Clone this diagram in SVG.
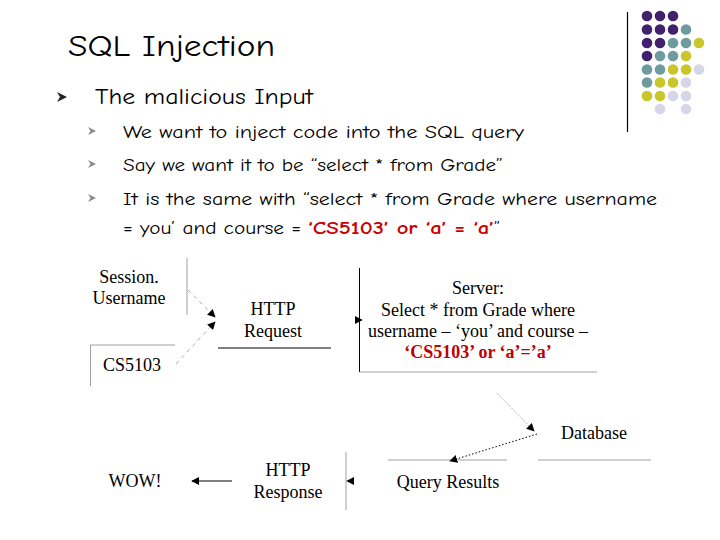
<svg xmlns="http://www.w3.org/2000/svg" width="720" height="540" viewBox="0 0 720 540">
<defs>
<style>
.t{font-family:"Comic Neue","DejaVu Sans","Open Sans",sans-serif;fill:#000}
.s{font-family:"Liberation Serif","Times New Roman",serif;font-size:18px;fill:#000;text-anchor:middle}
.red{fill:#C00000;font-weight:bold}
.gl{stroke:#a0a0a0;stroke-width:1;fill:none}
.bl{stroke:#000;stroke-width:1;fill:none}
.P{fill:#41206E}.T{fill:#6E9C9E}.Y{fill:#C8C62A}.L{fill:#D6D6E8}
</style>
<marker id="ah" viewBox="0 0 10 10" refX="9" refY="5" markerWidth="8" markerHeight="8" orient="auto" markerUnits="userSpaceOnUse">
<path d="M0,0 L10,5 L0,10 z" fill="#000"/>
</marker>
</defs>
<rect width="720" height="540" fill="#fff"/>

<g id="decoration">
<line x1="627.5" y1="12" x2="627.5" y2="132" stroke="#000" stroke-width="1.2"/>
<g>
<circle class="P" cx="647" cy="16" r="5.3"/><circle class="P" cx="660" cy="16" r="5.3"/><circle class="P" cx="673" cy="16" r="5.3"/>
<circle class="P" cx="647" cy="29.5" r="5.3"/><circle class="P" cx="660" cy="29.5" r="5.3"/><circle class="P" cx="673" cy="29.5" r="5.3"/><circle class="T" cx="686" cy="29.5" r="5.3"/>
<circle class="P" cx="647" cy="43" r="5.3"/><circle class="P" cx="660" cy="43" r="5.3"/><circle class="T" cx="673" cy="43" r="5.3"/><circle class="T" cx="686" cy="43" r="5.3"/><circle class="Y" cx="699" cy="43" r="5.3"/>
<circle class="P" cx="647" cy="56" r="5.3"/><circle class="T" cx="660" cy="56" r="5.3"/><circle class="T" cx="673" cy="56" r="5.3"/><circle class="Y" cx="686" cy="56" r="5.3"/>
<circle class="T" cx="647" cy="69.5" r="5.3"/><circle class="T" cx="660" cy="69.5" r="5.3"/><circle class="Y" cx="673" cy="69.5" r="5.3"/><circle class="Y" cx="686" cy="69.5" r="5.3"/><circle class="L" cx="699" cy="69.5" r="5.3"/>
<circle class="T" cx="647" cy="82.5" r="5.3"/><circle class="Y" cx="660" cy="82.5" r="5.3"/><circle class="Y" cx="673" cy="82.5" r="5.3"/><circle class="L" cx="686" cy="82.5" r="5.3"/>
<circle class="Y" cx="647" cy="96" r="5.3"/><circle class="Y" cx="660" cy="96" r="5.3"/><circle class="L" cx="673" cy="96" r="5.3"/><circle class="L" cx="686" cy="96" r="5.3"/>
<circle class="L" cx="660" cy="109" r="5.3"/><circle class="L" cx="686" cy="109" r="5.3"/>
</g>
</g>

<g id="title">
<text class="t" x="68" y="56" font-size="31" textLength="207" lengthAdjust="spacingAndGlyphs">SQL Injection</text>
</g>

<g id="bullets">
<polygon points="57,92 67,97 57,102 60,97" fill="#222"/>
<text class="t" x="95" y="104" font-size="23" textLength="218" lengthAdjust="spacingAndGlyphs">The malicious Input</text>
<polygon points="88,127 96,131 88,135 90.5,131" fill="#8a8a8a"/>
<text class="t" x="123" y="138" font-size="19" textLength="401" lengthAdjust="spacingAndGlyphs">We want to inject code into the SQL query</text>
<polygon points="88,160 96,164 88,168 90.5,164" fill="#8a8a8a"/>
<text class="t" x="123" y="171" font-size="19" textLength="380" lengthAdjust="spacingAndGlyphs">Say we want it to be “select * from Grade”</text>
<polygon points="88,194 96,198 88,202 90.5,198" fill="#8a8a8a"/>
<text class="t" x="123" y="205" font-size="19" textLength="534" lengthAdjust="spacingAndGlyphs">It is the same with “select * from Grade where username</text>
<text class="t" x="123" y="234" font-size="19" textLength="178" lengthAdjust="spacingAndGlyphs">= you’ and course =</text>
<text class="t red" x="308" y="234" font-size="19" style="fill:#CC0000" textLength="186" lengthAdjust="spacingAndGlyphs">‘CS5103’ or ‘a’ = ‘a’</text>
<text class="t" x="494" y="234" font-size="19">”</text>
</g>

<g id="session">
<text class="s" x="129" y="283">Session.</text>
<text class="s" x="129" y="304">Username</text>
<line class="gl" x1="187" y1="258" x2="187" y2="315"/>
</g>

<g id="cs5103">
<polyline class="gl" points="175,345 90.5,345 90.5,386"/>
<text class="s" x="132" y="371">CS5103</text>
</g>

<g id="http-request">
<text class="s" x="273" y="315">HTTP</text>
<text class="s" x="273" y="337">Request</text>
<line class="bl" x1="218" y1="348" x2="331" y2="348"/>
</g>

<g id="server">
<polyline class="bl" points="359.5,268 359.5,372"/>
<line class="gl" x1="359.5" y1="372" x2="597" y2="372"/>
<text class="s" x="478" y="294">Server:</text>
<text class="s" x="478" y="316">Select * from Grade where</text>
<text class="s" x="478" y="337">username – ‘you’ and course –</text>
<text class="s red" x="478" y="358">‘CS5103’ or ‘a’=’a’</text>
</g>

<g id="database">
<text class="s" x="594" y="439">Database</text>
<line class="gl" x1="538" y1="460" x2="651" y2="460"/>
</g>

<g id="query-results">
<line class="gl" x1="388" y1="460" x2="507" y2="460"/>
<text class="s" x="448" y="488">Query Results</text>
</g>

<g id="http-response">
<line class="gl" x1="346" y1="452" x2="346" y2="510"/>
<text class="s" x="288" y="476">HTTP</text>
<text class="s" x="288" y="498">Response</text>
</g>

<g id="wow">
<text class="s" x="135" y="487">WOW!</text>
</g>

<g id="connectors">
<line x1="188" y1="290" x2="215" y2="317" stroke="#999" stroke-width="0.8" stroke-dasharray="4,4" marker-end="url(#ah)"/>
<line x1="176" y1="364" x2="215" y2="322" stroke="#999" stroke-width="0.8" stroke-dasharray="4,4" marker-end="url(#ah)"/>
<line x1="335" y1="320" x2="362" y2="320" stroke="#000" stroke-width="0" marker-end="url(#ah)"/>
<line x1="497" y1="393" x2="534" y2="431" stroke="#888" stroke-width="0.8" stroke-dasharray="1.5,1.5" marker-end="url(#ah)"/>
<line x1="537" y1="434" x2="450" y2="461" stroke="#000" stroke-width="1" stroke-dasharray="1.5,2" marker-end="url(#ah)"/>
<line x1="375" y1="481" x2="347" y2="481" stroke="#000" stroke-width="0" marker-end="url(#ah)"/>
<line x1="232" y1="481" x2="192" y2="481" stroke="#000" stroke-width="1.2" marker-end="url(#ah)"/>
</g>
</svg>
